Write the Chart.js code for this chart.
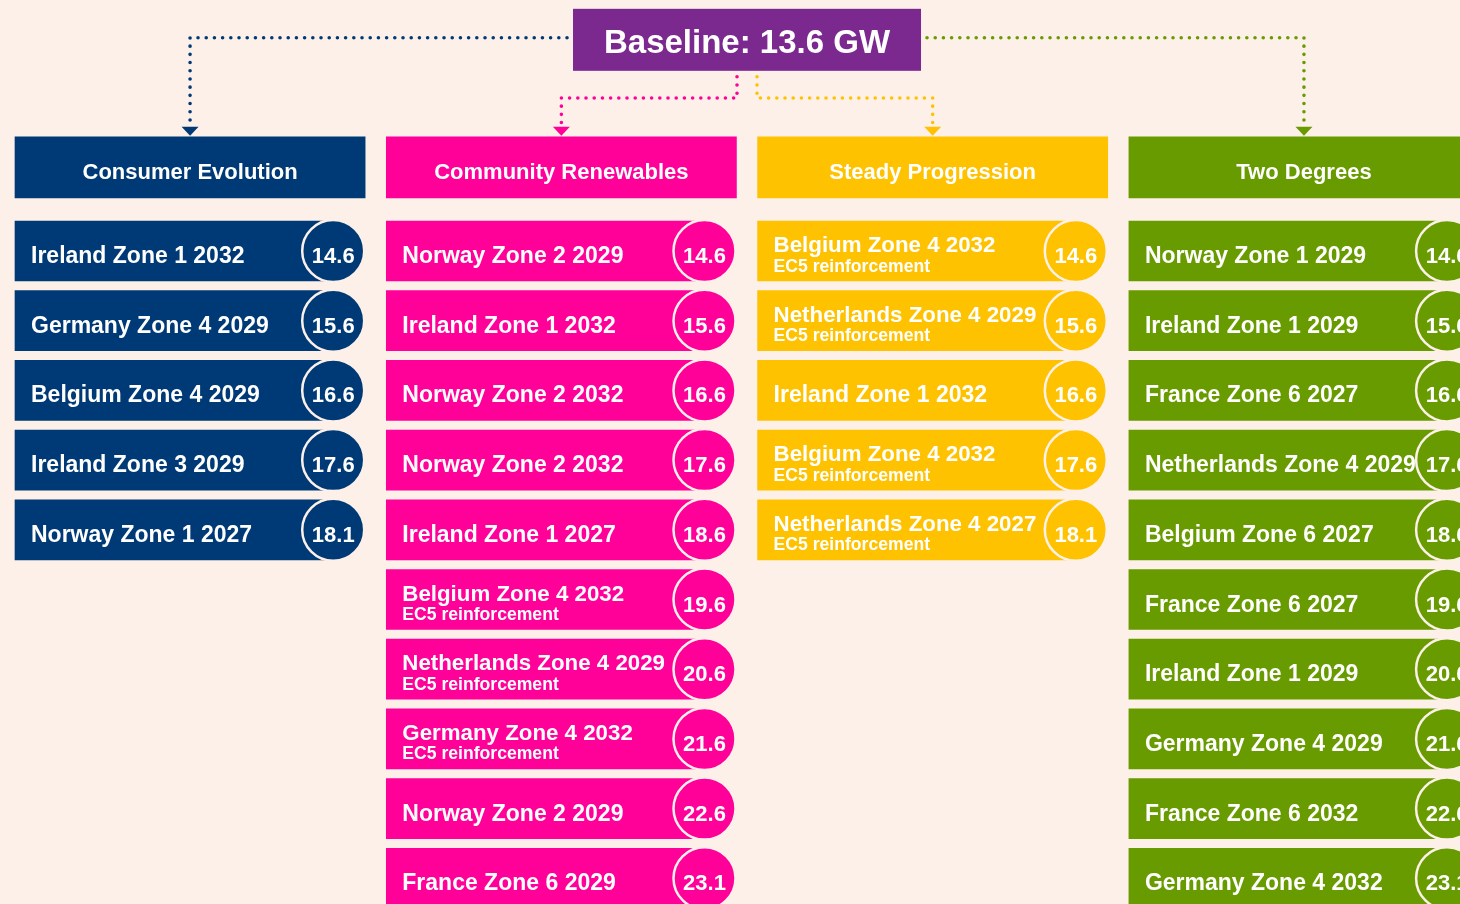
<!DOCTYPE html>
<html>
<head>
<meta charset="utf-8">
<title>Baseline 13.6 GW - scenarios</title>
<script src="https://cdn.jsdelivr.net/npm/chart.js@4.4.1/dist/chart.umd.min.js"></script>
<style>
  html, body { margin: 0; padding: 0; background: #FDF0E8; }
  #wrap { width: 1460px; height: 904px; position: relative; }
</style>
</head>
<body>
<div id="wrap"><canvas id="chart"></canvas></div>
<script>
// data
const baseline = 13.6;
const scenarios = ['Consumer Evolution', 'Community Renewables', 'Steady Progression', 'Two Degrees'];

const ceLabels = ['Ireland Zone 1 2032', 'Germany Zone 4 2029', 'Belgium Zone 4 2029', 'Ireland Zone 3 2029', 'Norway Zone 1 2027'];
const ceNotes = ['', '', '', '', ''];
const ceValues = [14.6, 15.6, 16.6, 17.6, 18.1];

const crLabels = ['Norway Zone 2 2029', 'Ireland Zone 1 2032', 'Norway Zone 2 2032', 'Norway Zone 2 2032', 'Ireland Zone 1 2027',
	'Belgium Zone 4 2032', 'Netherlands Zone 4 2029', 'Germany Zone 4 2032', 'Norway Zone 2 2029', 'France Zone 6 2029'];
const crNotes = ['', '', '', '', '', 'EC5 reinforcement', 'EC5 reinforcement', 'EC5 reinforcement', '', ''];
const crValues = [14.6, 15.6, 16.6, 17.6, 18.6, 19.6, 20.6, 21.6, 22.6, 23.1];

const spLabels = ['Belgium Zone 4 2032', 'Netherlands Zone 4 2029', 'Ireland Zone 1 2032', 'Belgium Zone 4 2032', 'Netherlands Zone 4 2027'];
const spNotes = ['EC5 reinforcement', 'EC5 reinforcement', '', 'EC5 reinforcement', 'EC5 reinforcement'];
const spValues = [14.6, 15.6, 16.6, 17.6, 18.1];

const tdLabels = ['Norway Zone 1 2029', 'Ireland Zone 1 2029', 'France Zone 6 2027', 'Netherlands Zone 4 2029', 'Belgium Zone 6 2027',
	'France Zone 6 2027', 'Ireland Zone 1 2029', 'Germany Zone 4 2029', 'France Zone 6 2032', 'Germany Zone 4 2032'];
const tdNotes = ['', '', '', '', '', '', '', '', '', ''];
const tdValues = [14.6, 15.6, 16.6, 17.6, 18.6, 19.6, 20.6, 21.6, 22.6, 23.1];

const allLabels = [ceLabels, crLabels, spLabels, tdLabels];
const allNotes = [ceNotes, crNotes, spNotes, tdNotes];
const allValues = [ceValues, crValues, spValues, tdValues];

// look
const BG = '#FDF0E8';
const PURPLE = '#7B288F';
const colors = ['#003A76', '#FF0099', '#FFC200', '#689B00'];
const FONT = '"Liberation Sans", Arial, Helvetica, sans-serif';

const BAR_LEN = 0.857;   // bar length in column units (ends at circle centre)
const HEAD_LEN = 0.943;  // header width in column units
const HEAD_ROW = -1.2;   // header row position on the row scale

const datasets = [];
scenarios.forEach((name, c) => {
	datasets.push({
		type: 'scatter',
		label: name + ' GW',
		data: allValues[c].map((v, r) => ({ x: c + BAR_LEN, y: r })),
		pointRadius: 31,
		pointHoverRadius: 31,
		backgroundColor: colors[c],
		borderColor: BG,
		borderWidth: 2.5,
		order: 0,
		clip: false,
	});
	datasets.push({
		type: 'bar',
		indexAxis: 'y',
		label: name,
		data: allLabels[c].map((l, r) => ({ x: [c, c + BAR_LEN], y: r })),
		backgroundColor: colors[c],
		barThickness: 60,
		grouped: false,
		order: 1,
		clip: false,
	});
});
// scenario headers
datasets.push({
	type: 'bar',
	indexAxis: 'y',
	label: 'headers',
	data: scenarios.map((s, c) => ({ x: [c, c + HEAD_LEN], y: HEAD_ROW })),
	backgroundColor: colors,
	barThickness: 61,
	grouped: false,
	order: 1,
	clip: false,
});

function dotted(ctx, pts, color) {
	ctx.save();
	ctx.strokeStyle = color;
	ctx.lineWidth = 3.6;
	ctx.lineCap = 'round';
	ctx.setLineDash([0, 8.2]);
	ctx.beginPath();
	ctx.moveTo(pts[0][0], pts[0][1]);
	for (let i = 1; i < pts.length; i++) ctx.lineTo(pts[i][0], pts[i][1]);
	ctx.stroke();
	ctx.restore();
	// arrow head
	const [tx, ty] = pts[pts.length - 1];
	ctx.save();
	ctx.fillStyle = color;
	ctx.beginPath();
	ctx.moveTo(tx - 8.5, ty);
	ctx.lineTo(tx + 8.5, ty);
	ctx.lineTo(tx, ty + 9);
	ctx.closePath();
	ctx.fill();
	ctx.restore();
}

const infographic = {
	id: 'infographic',
	beforeDatasetsDraw(chart) {
		const ctx = chart.ctx;
		const xs = chart.scales.x;
		const ys = chart.scales.y;

		// baseline box sits between columns 2 and 3
		const boxCx = (xs.getPixelForValue(1 + HEAD_LEN) + xs.getPixelForValue(2)) / 2;
		const boxCy = ys.getPixelForValue(-3.03);
		const boxW = 348, boxH = 62;
		const boxL = boxCx - boxW / 2, boxR = boxCx + boxW / 2;
		const boxB = boxCy + boxH / 2;

		const headTop = ys.getPixelForValue(HEAD_ROW) - 30.5;
		const arrowY = headTop - 10;
		const upper = ys.getPixelForValue(-3.06);
		const lower = ys.getPixelForValue(-2.195);
		const hc = scenarios.map((s, c) => xs.getPixelForValue(c + HEAD_LEN / 2));

		dotted(ctx, [[boxL - 6, upper], [hc[0], upper], [hc[0], arrowY]], colors[0]);
		dotted(ctx, [[boxCx - 10, boxB + 6], [boxCx - 10, lower], [hc[1], lower], [hc[1], arrowY]], colors[1]);
		dotted(ctx, [[boxCx + 10, boxB + 6], [boxCx + 10, lower], [hc[2], lower], [hc[2], arrowY]], colors[2]);
		dotted(ctx, [[boxR + 6, upper], [hc[3], upper], [hc[3], arrowY]], colors[3]);

		ctx.save();
		ctx.fillStyle = PURPLE;
		ctx.fillRect(boxL, boxCy - boxH / 2, boxW, boxH);
		ctx.fillStyle = '#FFFFFF';
		ctx.font = 'bold 33px ' + FONT;
		ctx.textAlign = 'center';
		ctx.textBaseline = 'alphabetic';
		ctx.fillText('Baseline: ' + baseline.toFixed(1) + ' GW', boxCx, boxCy + 13);
		ctx.restore();
	},
	afterDatasetsDraw(chart) {
		const ctx = chart.ctx;
		ctx.save();
		ctx.fillStyle = '#FFFFFF';
		ctx.textBaseline = 'alphabetic';

		// header titles
		const headMeta = chart.getDatasetMeta(chart.data.datasets.length - 1);
		ctx.font = 'bold 22px ' + FONT;
		ctx.textAlign = 'center';
		headMeta.data.forEach((el, c) => {
			const l = Math.min(el.x, el.base), r = Math.max(el.x, el.base);
			ctx.fillText(scenarios[c], (l + r) / 2, el.y + 11.5);
		});

		scenarios.forEach((name, c) => {
			const dotMeta = chart.getDatasetMeta(c * 2);
			const barMeta = chart.getDatasetMeta(c * 2 + 1);
			barMeta.data.forEach((el, r) => {
				const left = Math.min(el.x, el.base) + 16;
				const note = allNotes[c][r];
				ctx.textAlign = 'left';
				if (note) {
					ctx.font = 'bold 22.3px ' + FONT;
					ctx.fillText(allLabels[c][r], left, el.y + 1);
					ctx.font = 'bold 17.6px ' + FONT;
					ctx.fillText(note, left, el.y + 20.5);
				} else {
					ctx.font = 'bold 23px ' + FONT;
					ctx.fillText(allLabels[c][r], left, el.y + 12);
				}
			});
			ctx.font = 'bold 22px ' + FONT;
			ctx.textAlign = 'center';
			dotMeta.data.forEach((pt, r) => {
				ctx.fillText(allValues[c][r].toFixed(1), pt.x, pt.y + 12);
			});
		});
		ctx.restore();
	},
};

new Chart(document.getElementById('chart'), {
	type: 'bar',
	data: { datasets },
	options: {
		responsive: true,
		maintainAspectRatio: false,
		animation: false,
		events: [],
		layout: { padding: 0, autoPadding: false },
		plugins: { legend: { display: false }, tooltip: { enabled: false } },
		scales: {
			x: { type: 'linear', display: false, offset: false, min: -15 / 371.3, max: -15 / 371.3 + 1460 / 371.3 },
			y: { type: 'linear', display: false, offset: false, reverse: true, min: -251 / 69.7, max: -251 / 69.7 + 904 / 69.7 },
		},
	},
	plugins: [infographic],
});
</script>
</body>
</html>
